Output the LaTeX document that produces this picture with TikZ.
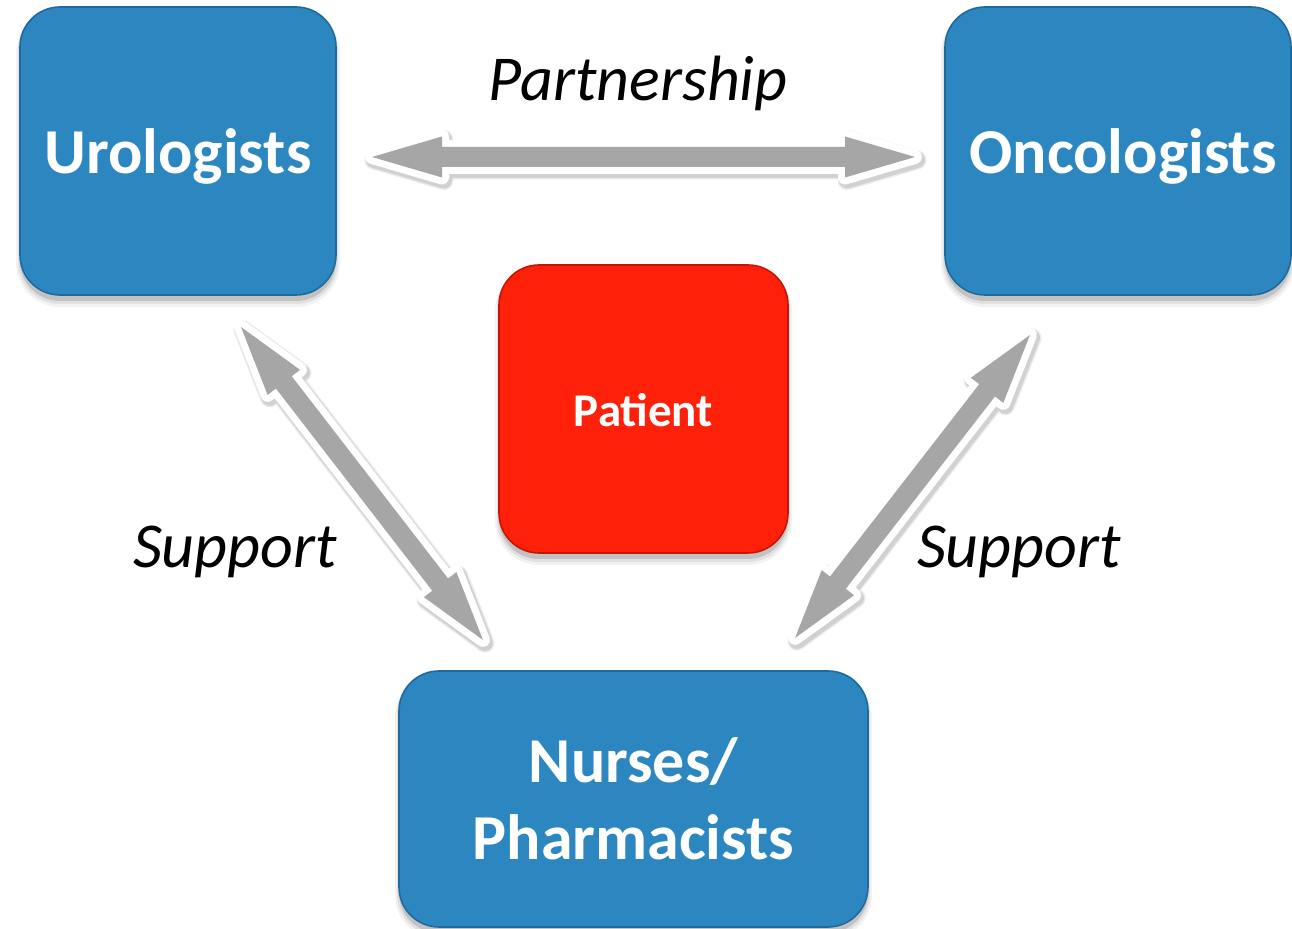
\documentclass[tikz,border=0pt]{standalone}
\usepackage{fontspec}
\setmainfont{Carlito}
\usetikzlibrary{calc}

\definecolor{boxblue}{RGB}{44,135,192}
\definecolor{boxblueedge}{RGB}{30,105,158}
\definecolor{patientred}{RGB}{255,32,10}
\definecolor{patientedge}{RGB}{196,22,6}
\definecolor{arrowgray}{RGB}{166,166,166}

% block arrow geometry
\newcommand\arrHL{35pt}% head length
\newcommand\arrHW{10.25pt}% half width of a head
\newcommand\arrSW{5pt}% half width of the shaft

% double-headed block arrow between two tip coordinates
\newcommand\blockarrow[3]{%
  \coordinate (#1-0) at (#2);
  \coordinate (#1-1) at ($(#2)!\arrHL!(#3)!\arrHW!90:(#3)$);
  \coordinate (#1-2) at ($(#2)!\arrHL!(#3)!\arrSW!90:(#3)$);
  \coordinate (#1-3) at ($(#3)!\arrHL!(#2)!\arrSW!-90:(#2)$);
  \coordinate (#1-4) at ($(#3)!\arrHL!(#2)!\arrHW!-90:(#2)$);
  \coordinate (#1-5) at (#3);
  \coordinate (#1-6) at ($(#3)!\arrHL!(#2)!\arrHW!90:(#2)$);
  \coordinate (#1-7) at ($(#3)!\arrHL!(#2)!\arrSW!90:(#2)$);
  \coordinate (#1-8) at ($(#2)!\arrHL!(#3)!\arrSW!-90:(#3)$);
  \coordinate (#1-9) at ($(#2)!\arrHL!(#3)!\arrHW!-90:(#3)$);
  \begin{scope}[transform canvas={shift={(1pt,-1.5pt)}}]
    \draw[arrowshadowouter] (#1-0)--(#1-1)--(#1-2)--(#1-3)--(#1-4)--(#1-5)--(#1-6)--(#1-7)--(#1-8)--(#1-9)--cycle;
    \draw[arrowshadowinner] (#1-0)--(#1-1)--(#1-2)--(#1-3)--(#1-4)--(#1-5)--(#1-6)--(#1-7)--(#1-8)--(#1-9)--cycle;
  \end{scope}
  \draw[arrowrim] (#1-0)--(#1-1)--(#1-2)--(#1-3)--(#1-4)--(#1-5)--(#1-6)--(#1-7)--(#1-8)--(#1-9)--cycle;
  \fill[arrowbody] (#1-0)--(#1-1)--(#1-2)--(#1-3)--(#1-4)--(#1-5)--(#1-6)--(#1-7)--(#1-8)--(#1-9)--cycle;
}

% soft drop shadow under a rounded box
\newcommand\boxshadow[1]{%
  \fill[black!5, rounded corners=22pt] ([shift={(-2pt,-6pt)}]#1.south west) rectangle ([shift={(2pt,-1pt)}]#1.north east);
  \fill[black!12, rounded corners=21pt] ([shift={(-1pt,-4.5pt)}]#1.south west) rectangle ([shift={(1pt,-1pt)}]#1.north east);
  \fill[black!24, rounded corners=20pt] ([shift={(0pt,-3pt)}]#1.south west) rectangle ([shift={(0pt,-1pt)}]#1.north east);
}

\begin{document}
\begin{tikzpicture}[x=0.5pt,y=-0.5pt,
  bluebox/.style={rectangle, rounded corners=20pt, fill=boxblue, draw=boxblueedge,
    line width=0.8pt, inner sep=0pt, outer sep=0pt},
  redbox/.style={rectangle, rounded corners=20pt, fill=patientred, draw=patientedge,
    line width=0.8pt, inner sep=0pt, outer sep=0pt},
  boxlabel/.style={text=white, inner sep=0pt, font=\fontsize{32}{38.5}\selectfont\bfseries},
  patientlabel/.style={text=white, inner sep=0pt, font=\fontsize{23.5}{28}\selectfont\bfseries},
  linklabel/.style={text=black, inner sep=0pt, font=\fontsize{32}{38.5}\selectfont\itshape},
  arrowshadowouter/.style={draw=black!8, line width=9.5pt, line join=round},
  arrowshadowinner/.style={draw=black!18, line width=8pt, line join=round},
  arrowrim/.style={draw=white, line width=7pt, line join=round},
  arrowbody/.style={fill=arrowgray},
]
\useasboundingbox (0,0) rectangle (1292,929);

% box positions (named), shadows, then the boxes on top
\path (178,151) coordinate (uroc) (1118,151) coordinate (oncc)
      (643.5,409) coordinate (patc) (633.5,799) coordinate (nurc);
\path (uroc) node[minimum width=158pt, minimum height=144pt, inner sep=0pt, outer sep=0pt] (uroshape) {};
\path (oncc) node[minimum width=173pt, minimum height=144pt, inner sep=0pt, outer sep=0pt] (oncshape) {};
\path (patc) node[minimum width=144.5pt, minimum height=144pt, inner sep=0pt, outer sep=0pt] (patshape) {};
\path (nurc) node[minimum width=234.5pt, minimum height=128pt, inner sep=0pt, outer sep=0pt] (nurshape) {};
\boxshadow{uroshape}
\boxshadow{oncshape}
\boxshadow{patshape}
\boxshadow{nurshape}

\node[bluebox, minimum width=158pt, minimum height=144pt] (uro) at (uroc) {};
\node[bluebox, minimum width=173pt, minimum height=144pt] (onc) at (oncc) {};
\node[redbox, minimum width=144.5pt, minimum height=144pt] (pat) at (patc) {};
\node[bluebox, minimum width=234.5pt, minimum height=128pt] (nur) at (nurc) {};

% box texts
\node[boxlabel, anchor=base] (urotext) at ($(uro.center)+(0,23)$) {Urologists};
\node[boxlabel, anchor=base] (onctext) at ($(onc.center)+(5,23)$) {Oncologists};
\node[patientlabel, anchor=base] (pattext) at ($(pat.center)+(0,18)$) {Patient};
\node[boxlabel, align=center] (nurtext) at ($(nur.center)+(0,-0.5)$) {Nurses/\\Pharmacists};

% arrow tips
\coordinate (partL) at (372,157);
\coordinate (partR) at (915,157);
\coordinate (supLtop) at (241,327);
\coordinate (supLbot) at (483,640);
\coordinate (supRtop) at (1030,335);
\coordinate (supRbot) at (795,638);

\blockarrow{hz}{partL}{partR}
\blockarrow{dl}{supLtop}{supLbot}
\blockarrow{dr}{supRtop}{supRbot}

% relation labels
\node[linklabel, anchor=base] (partlabel) at (638,101) {Partnership};
\node[linklabel, anchor=base] (suplabelL) at (235,568) {Support};
\node[linklabel, anchor=base] (suplabelR) at (1019,568) {Support};
\end{tikzpicture}
\end{document}
